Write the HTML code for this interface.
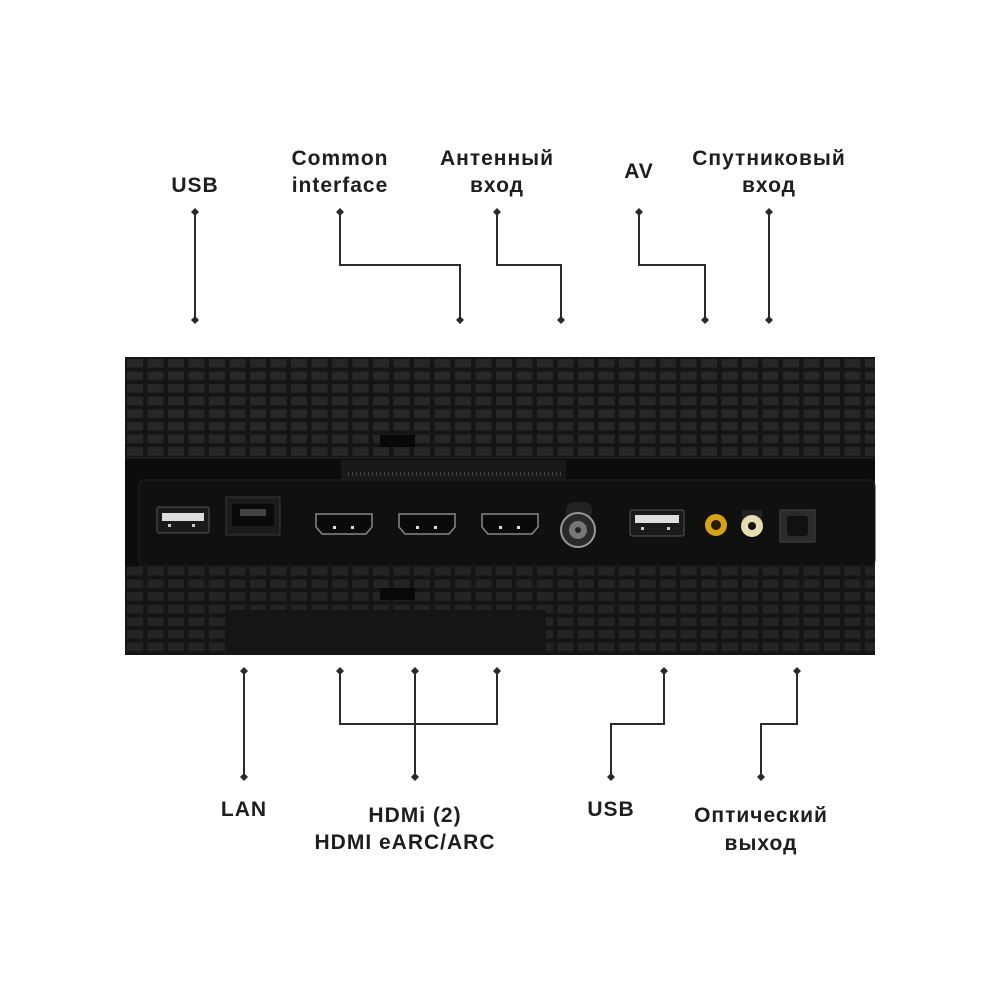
<!DOCTYPE html>
<html><head><meta charset="utf-8"><style>
html,body{margin:0;padding:0;background:#fff;}
svg{display:block}
text{font-family:"Liberation Sans","DejaVu Sans",sans-serif;font-weight:bold;font-size:21px;fill:#1e1e1e;text-anchor:middle;letter-spacing:1px}
</style></head><body>
<svg width="1000" height="1000" viewBox="0 0 1000 1000" xmlns="http://www.w3.org/2000/svg">
<defs>
<pattern id="tiles" x="125" y="357" width="20.5" height="12.6" patternUnits="userSpaceOnUse">
<rect width="20.5" height="12.6" fill="#151515"/>
<rect x="2" y="2" width="16" height="8.5" fill="#272727"/>
</pattern>
<pattern id="tiles2" x="125" y="565" width="20.5" height="12.6" patternUnits="userSpaceOnUse">
<rect width="20.5" height="12.6" fill="#151515"/>
<rect x="2" y="2" width="16" height="8.5" fill="#242424"/>
</pattern>
<pattern id="ticks" x="0" y="0" width="4" height="10" patternUnits="userSpaceOnUse">
<rect x="0" y="0" width="1" height="6" fill="#444"/>
</pattern>
</defs>

<rect x="125" y="357" width="750" height="101" fill="url(#tiles)"/>
<rect x="125" y="458" width="750" height="107" fill="#0c0c0c"/>
<rect x="125" y="565" width="750" height="90" fill="url(#tiles2)"/>
<rect x="228" y="610" width="318" height="45" fill="#151515"/>
<rect x="380" y="435" width="35" height="12" fill="#080808"/>
<rect x="380" y="588" width="35" height="12" fill="#080808"/>
<line x1="125" y1="458" x2="875" y2="458" stroke="#2a2a2a" stroke-width="1"/>
<rect x="341" y="460" width="225" height="20" fill="#181818"/>
<rect x="345" y="472" width="216" height="6" fill="url(#ticks)"/>
<rect x="139" y="480" width="736" height="86" rx="6" fill="#101010" stroke="#1f1f1f" stroke-width="1"/>

<g>
<rect x="157" y="507" width="52" height="26" rx="2" fill="#1a1a1a" stroke="#555"/>
<rect x="162" y="513" width="42" height="8" fill="#ddd"/>
<rect x="168" y="524" width="3" height="3" fill="#ccc"/><rect x="192" y="524" width="3" height="3" fill="#ccc"/>

<rect x="226" y="497" width="54" height="38" fill="#1c1c1c" stroke="#3a3a3a"/>
<rect x="232" y="504" width="42" height="22" fill="#0a0a0a"/>
<rect x="240" y="509" width="26" height="7" fill="#444"/>

<g fill="#0a0a0a" stroke="#888" stroke-width="1.5">
<path d="M316 514 H372 V527 L366 534 H322 L316 527 Z"/>
<path d="M399 514 H455 V527 L449 534 H405 L399 527 Z"/>
<path d="M482 514 H538 V527 L532 534 H488 L482 527 Z"/>
</g>
<g fill="#ddd"><rect x="333" y="526" width="3" height="3"/><rect x="351" y="526" width="3" height="3"/><rect x="416" y="526" width="3" height="3"/><rect x="434" y="526" width="3" height="3"/><rect x="499" y="526" width="3" height="3"/><rect x="517" y="526" width="3" height="3"/></g>

<rect x="566" y="502" width="26" height="18" rx="8" fill="#222"/>
<circle cx="578" cy="530" r="17" fill="#2a2a2a" stroke="#999" stroke-width="2"/>
<circle cx="578" cy="530" r="9" fill="#777"/>
<circle cx="578" cy="530" r="3" fill="#222"/>

<rect x="630" y="510" width="54" height="26" rx="2" fill="#1a1a1a" stroke="#555"/>
<rect x="635" y="515" width="44" height="8" fill="#ddd"/>
<rect x="641" y="527" width="3" height="3" fill="#ccc"/><rect x="667" y="527" width="3" height="3" fill="#ccc"/>

<circle cx="716" cy="525" r="11" fill="#d7a21a"/><circle cx="716" cy="525" r="5" fill="#2a1a00"/>
<rect x="742" y="510" width="20" height="10" fill="#222"/>
<circle cx="752" cy="526" r="11" fill="#e6dcb8"/><circle cx="752" cy="526" r="4" fill="#111"/>

<rect x="780" y="510" width="35" height="32" fill="#2a2a2a" stroke="#444"/>
<rect x="787" y="516" width="21" height="20" rx="3" fill="#111"/>
</g>

<g stroke="#2b2b2b" stroke-width="2" fill="none">
<path d="M195 212 V320"/>
<path d="M340 212 V265 H460 V320"/>
<path d="M497 212 V265 H561 V320"/>
<path d="M639 212 V265 H705 V320"/>
<path d="M769 212 V320"/>
<path d="M244 671 V777"/>
<path d="M340 671 V724 H497 V671"/>
<path d="M415 671 V777"/>
<path d="M664 671 V724 H611 V777"/>
<path d="M797 671 V724 H761 V777"/>
</g>
<g fill="#2b2b2b">
<path d="M0 -4 L4 0 L0 4 L-4 0Z" transform="translate(195,212)"/>
<path d="M0 -4 L4 0 L0 4 L-4 0Z" transform="translate(195,320)"/>
<path d="M0 -4 L4 0 L0 4 L-4 0Z" transform="translate(340,212)"/>
<path d="M0 -4 L4 0 L0 4 L-4 0Z" transform="translate(460,320)"/>
<path d="M0 -4 L4 0 L0 4 L-4 0Z" transform="translate(497,212)"/>
<path d="M0 -4 L4 0 L0 4 L-4 0Z" transform="translate(561,320)"/>
<path d="M0 -4 L4 0 L0 4 L-4 0Z" transform="translate(639,212)"/>
<path d="M0 -4 L4 0 L0 4 L-4 0Z" transform="translate(705,320)"/>
<path d="M0 -4 L4 0 L0 4 L-4 0Z" transform="translate(769,212)"/>
<path d="M0 -4 L4 0 L0 4 L-4 0Z" transform="translate(769,320)"/>
<path d="M0 -4 L4 0 L0 4 L-4 0Z" transform="translate(244,671)"/>
<path d="M0 -4 L4 0 L0 4 L-4 0Z" transform="translate(244,777)"/>
<path d="M0 -4 L4 0 L0 4 L-4 0Z" transform="translate(340,671)"/>
<path d="M0 -4 L4 0 L0 4 L-4 0Z" transform="translate(415,671)"/>
<path d="M0 -4 L4 0 L0 4 L-4 0Z" transform="translate(497,671)"/>
<path d="M0 -4 L4 0 L0 4 L-4 0Z" transform="translate(415,777)"/>
<path d="M0 -4 L4 0 L0 4 L-4 0Z" transform="translate(664,671)"/>
<path d="M0 -4 L4 0 L0 4 L-4 0Z" transform="translate(611,777)"/>
<path d="M0 -4 L4 0 L0 4 L-4 0Z" transform="translate(797,671)"/>
<path d="M0 -4 L4 0 L0 4 L-4 0Z" transform="translate(761,777)"/>
</g>

<text x="195" y="192">USB</text>
<text x="340" y="165">Common</text>
<text x="340" y="192">interface</text>
<text x="497" y="165">Антенный</text>
<text x="497" y="192">вход</text>
<text x="639" y="178">AV</text>
<text x="769" y="165">Спутниковый</text>
<text x="769" y="192">вход</text>
<text x="244" y="816">LAN</text>
<text x="415" y="822">HDMi (2)</text>
<text x="405" y="849">HDMI eARC/ARC</text>
<text x="611" y="816">USB</text>
<text x="761" y="822">Оптический</text>
<text x="761" y="850">выход</text>
</svg>
</body></html>
